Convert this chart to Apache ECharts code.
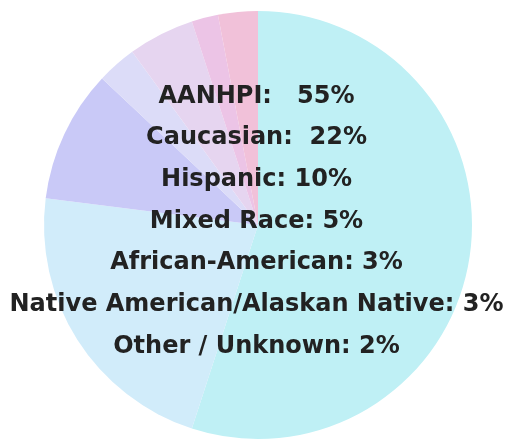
<!DOCTYPE html>
<html>
<head>
<meta charset="utf-8">
<script src="https://cdn.jsdelivr.net/npm/echarts@6/dist/echarts.min.js"></script>
<style>
  html, body { margin: 0; padding: 0; background: #fff; }
  #chart { width: 509px; height: 441px; }
</style>
</head>
<body>
<div id="chart"></div>
<script>
// slices as drawn, clockwise from 12 o'clock
const sliceNames = ['AANHPI', 'Caucasian', 'Hispanic', 'African-American', 'Mixed Race', 'Other / Unknown', 'Native American/Alaskan Native'];
const sliceValues = [55, 22, 10, 3, 5, 2, 3];
const sliceColors = ['#bff0f5', '#d1ecfa', '#c9c9f7', '#dcdcf8', '#e6d5f0', '#ecc4e6', '#f1c1d9'];

// overlaid text block
const labelLines = [
  'AANHPI:   55%',
  'Caucasian:  22%',
  'Hispanic: 10%',
  'Mixed Race: 5%',
  'African-American: 3%',
  'Native American/Alaskan Native: 3%',
  'Other / Unknown: 2%'
];

const chart = echarts.init(document.getElementById('chart'));

chart.setOption({
  animation: false,
  series: [{
    type: 'pie',
    center: [258, 225],
    radius: 214,
    startAngle: 90,
    clockwise: true,
    silent: true,
    label: { show: false },
    labelLine: { show: false },
    data: sliceNames.map((name, i) => ({
      name: name,
      value: sliceValues[i],
      itemStyle: { color: sliceColors[i] }
    }))
  }],
  graphic: [{
    type: 'text',
    z: 100,
    x: 256.5,
    y: 221.5,
    style: {
      text: labelLines.join('\n'),
      align: 'center',
      verticalAlign: 'middle',
      font: 'bold 24px "DejaVu Sans"',
      lineHeight: 41.7,
      fill: '#222222'
    }
  }]
});
</script>
</body>
</html>
